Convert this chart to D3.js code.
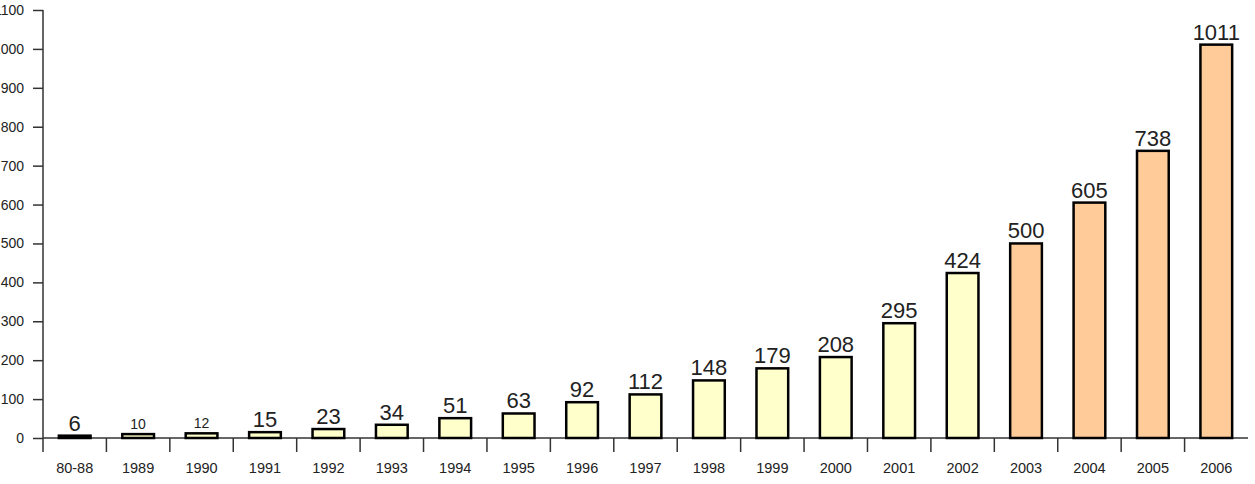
<!DOCTYPE html>
<html>
<head>
<meta charset="utf-8">
<script src="https://cdn.jsdelivr.net/npm/d3@7"></script>
<style>
    body { margin: 0; background: #fff; }
    svg { display: block; font-family: "Liberation Sans", Arial, sans-serif; }
</style>
</head>
<body>
<div id="chart"></div>
<script>
// data
let years = ["80-88", "1989", "1990", "1991", "1992", "1993", "1994", "1995", "1996", "1997",
    "1998", "1999", "2000", "2001", "2002", "2003", "2004", "2005", "2006"];
let counts = [6, 10, 12, 15, 23, 34, 51, 63, 92, 112, 148, 179, 208, 295, 424, 500, 605, 738, 1011];
let yTicks = [0, 100, 200, 300, 400, 500, 600, 700, 800, 900, 1000, 1100];
// years drawn in the second colour
let laterYears = ["2003", "2004", "2005", "2006"];

let width = 1255, height = 484;

let svg = d3.select("#chart").append("svg")
    .attr("width", width)
    .attr("height", height);

// scales
let x = d3.scaleBand()
    .domain(years)
    .range([43, 1248]);

let y = d3.scaleLinear()
    .domain([0, 1100])
    .range([438, 10]);

let axisColor = "#333";

// y axis
let yAxis = svg.append("g")
    .attr("transform", "translate(43,0)")
    .call(d3.axisLeft(y).tickValues(yTicks).tickSize(10).tickSizeOuter(0).tickFormat(d3.format("d")));

yAxis.select(".domain").remove();
yAxis.selectAll(".tick line").attr("stroke", axisColor).attr("stroke-width", 1.5);
yAxis.selectAll(".tick text")
    .attr("x", -19)
    .attr("fill", "#222")
    .style("font-size", "14px");

svg.append("line")
    .attr("x1", 43).attr("x2", 43)
    .attr("y1", y(1100)).attr("y2", 452)
    .attr("stroke", axisColor)
    .attr("stroke-width", 1.5);

// x axis baseline
svg.append("line")
    .attr("x1", 43).attr("x2", 1248)
    .attr("y1", y(0)).attr("y2", y(0))
    .attr("stroke", axisColor)
    .attr("stroke-width", 1.5);

// separators between categories
svg.selectAll(".sep")
    .data(years.slice(1))
    .enter().append("line")
    .attr("class", "sep")
    .attr("x1", d => x(d)).attr("x2", d => x(d))
    .attr("y1", y(0)).attr("y2", 452)
    .attr("stroke", axisColor)
    .attr("stroke-width", 1.5);

// category labels
svg.selectAll(".xlabel")
    .data(years)
    .enter().append("text")
    .attr("class", "xlabel")
    .attr("x", d => x(d) + x.bandwidth() / 2)
    .attr("y", 473)
    .attr("text-anchor", "middle")
    .attr("fill", "#222")
    .style("font-size", "14.5px")
    .text(d => d);

// bars
let barW = x.bandwidth() * 0.5;

svg.selectAll(".bar")
    .data(years)
    .enter().append("rect")
    .attr("class", "bar")
    .attr("x", d => x(d) + (x.bandwidth() - barW) / 2)
    .attr("y", (d, i) => y(counts[i]))
    .attr("width", barW)
    .attr("height", (d, i) => y(0) - y(counts[i]))
    .attr("fill", d => laterYears.includes(d) ? "#ffcc99" : "#ffffcc")
    .attr("stroke", "#000")
    .attr("stroke-width", 2.5);

// value labels
svg.selectAll(".value")
    .data(years)
    .enter().append("text")
    .attr("class", "value")
    .attr("x", d => x(d) + x.bandwidth() / 2)
    .attr("y", (d, i) => y(counts[i]) - 5)
    .attr("text-anchor", "middle")
    .attr("fill", "#222")
    .style("font-size", (d, i) => counts[i] < 13 && counts[i] > 6 ? "14px" : "22px")
    .text((d, i) => counts[i]);
</script>
</body>
</html>
